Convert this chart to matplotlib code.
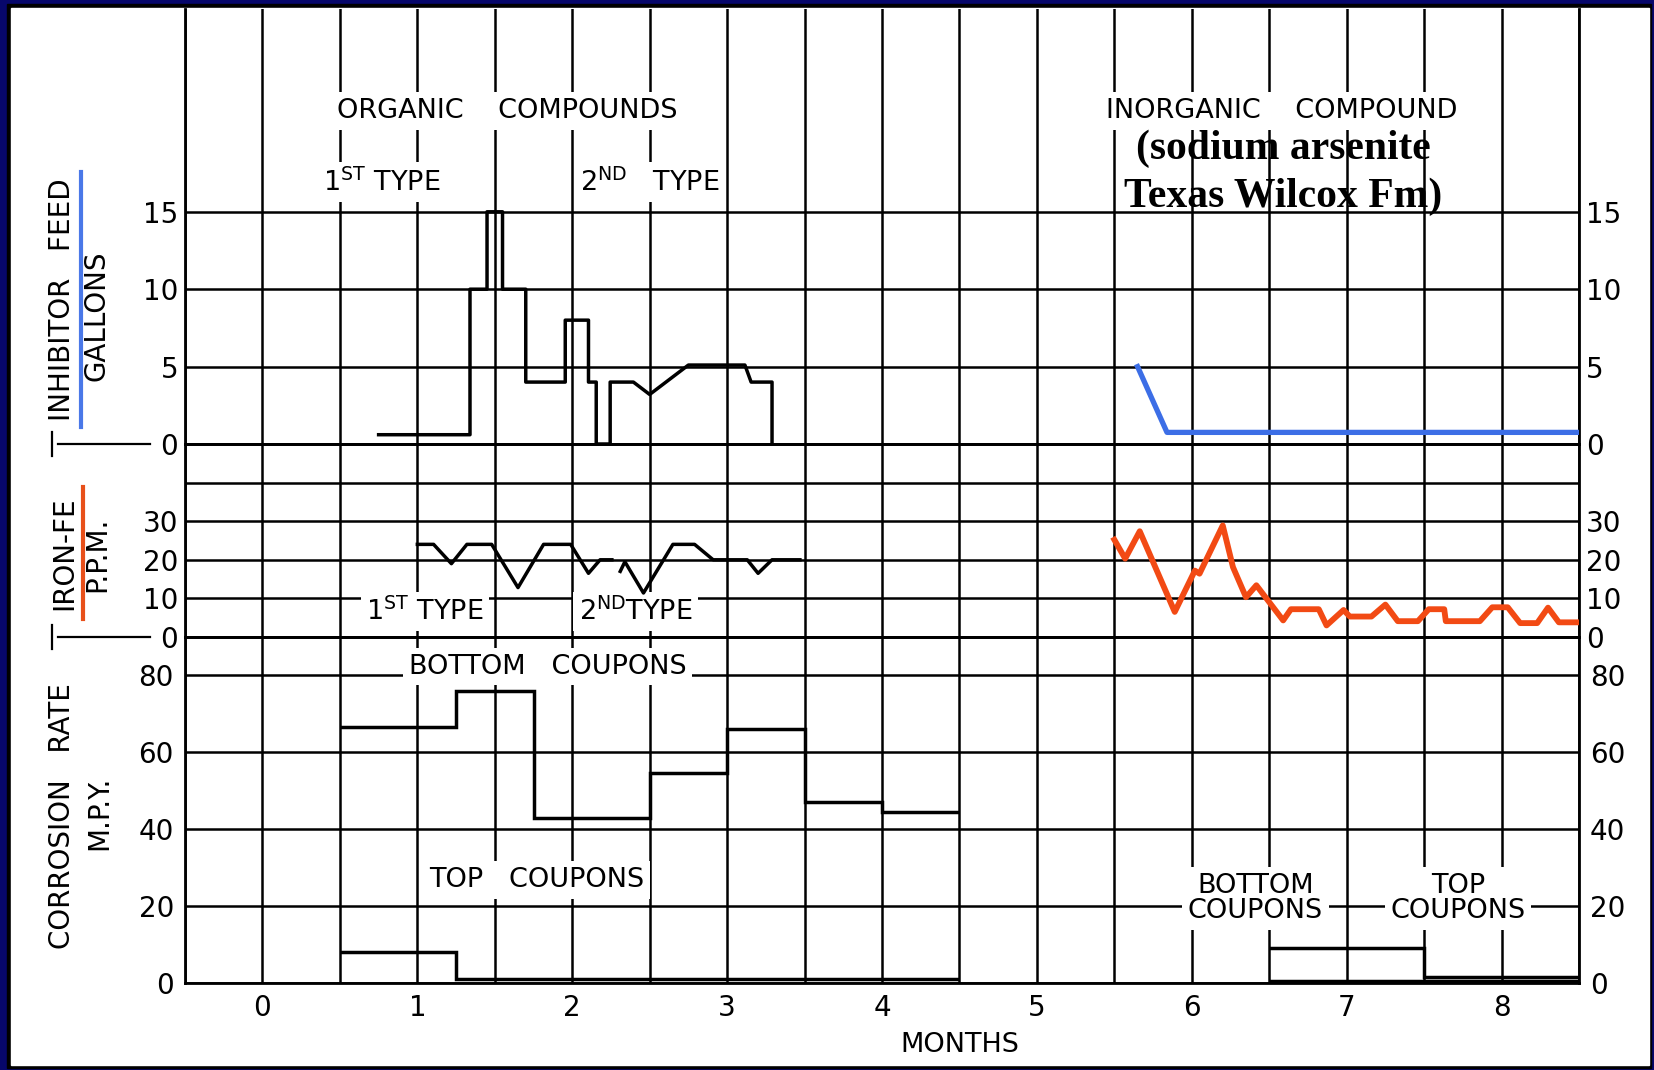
import matplotlib.pyplot as plt
from matplotlib.patches import Rectangle
from matplotlib.lines import Line2D
import numpy as np

# ---- data (x in months) ----
# inhibitor feed, gallons: organic compounds (1st and 2nd type)
feed_org_month = [0.75, 1.34, 1.34, 1.45, 1.45, 1.55, 1.55, 1.70, 1.70, 1.955, 1.955,
                  2.105, 2.105, 2.155, 2.155, 2.245, 2.245, 2.395, 2.5, 2.75, 3.115,
                  3.155, 3.29, 3.29]
feed_org_gal = [0.6, 0.6, 10, 10, 15, 15, 10, 10, 4, 4, 8,
                8, 4, 4, 0, 0, 4, 4, 3.2, 5.1, 5.1,
                4, 4, 0]
# inhibitor feed, gallons: sodium arsenite
feed_ars_month = [5.65, 5.84, 8.5]
feed_ars_gal = [5, 0.75, 0.75]

# iron, ppm: organic period (two pieces)
iron_org1_month = [1.0, 1.105, 1.22, 1.32, 1.48, 1.65, 1.815, 1.99, 2.105, 2.18, 2.256]
iron_org1_ppm = [24, 24, 19, 24, 24, 12.8, 24, 24, 16.5, 20, 20]
iron_org2_month = [2.31, 2.34, 2.46, 2.65, 2.79, 2.91, 3.13, 3.20, 3.29, 3.47]
iron_org2_ppm = [17, 19.5, 11.4, 24, 24, 20, 20, 16.5, 20, 20]
# iron, ppm: arsenite period
iron_ars_month = [5.5, 5.57, 5.664, 5.89, 6.02, 6.05, 6.2, 6.266, 6.35, 6.417, 6.59,
                  6.64, 6.82, 6.87, 6.98, 7.02, 7.16, 7.25, 7.33, 7.46, 7.53, 7.63,
                  7.64, 7.86, 7.94, 8.04, 8.12, 8.23, 8.3, 8.37, 8.5]
iron_ars_ppm = [25.2, 20.3, 27.4, 6.5, 17.2, 16.4, 28.9, 18.1, 10.3, 13.4, 4.3,
                7.2, 7.2, 3.0, 7.0, 5.3, 5.3, 8.4, 4.1, 4.1, 7.2, 7.2,
                4.1, 4.1, 7.7, 7.7, 3.6, 3.6, 7.6, 3.8, 3.8]

# corrosion rate, MPY (step values between month edges)
bottom_org_edges = [0.5, 1.25, 1.75, 2.5, 3.0, 3.5, 4.0, 4.5]
bottom_org_mpy = [66.5, 76, 43, 54.5, 66, 47, 44.5]
top_org_edges = [0.5, 1.25, 4.5]
top_org_mpy = [8, 1]
bottom_ars_edges = [6.5, 7.5, 8.5]
bottom_ars_mpy = [9, 1.5]
top_ars_edges = [6.5, 8.5]
top_ars_mpy = [0.5]

month_ticks = list(range(0, 9))
gal_ticks = [0, 5, 10, 15]
ppm_ticks = [0, 10, 20, 30, 40]
ppm_labels = ['0', '10', '20', '30', '']
mpy_ticks = [0, 20, 40, 60, 80]

W, H = 1654, 1070
BLUE = '#3c6ee6'
ORANGE = '#f24a14'
SANS = ['DejaVu Sans']


def fx(px):
    return px / W


def fy(py):
    return 1 - py / H


fig = plt.figure(figsize=(W / 100, H / 100), dpi=100, facecolor='#07076b')
fig.add_artist(Rectangle((fx(7), fy(1068)), fx(1651) - fx(7), fy(4) - fy(1068),
                         transform=fig.transFigure, color='black', zorder=-3))
fig.add_artist(Rectangle((fx(11), fy(1065)), fx(1649) - fx(11), fy(8) - fy(1065),
                         transform=fig.transFigure, color='white', zorder=-2))

left, right = fx(185), fx(1579)
ax_gal = fig.add_axes([left, fy(444), right - left, fy(9) - fy(444)])
ax_fe = fig.add_axes([left, fy(637), right - left, fy(444) - fy(637)])
ax_cr = fig.add_axes([left, fy(983), right - left, fy(637) - fy(983)])


def style(ax, yticks, ylabels, ylim):
    ax.set_facecolor('none')
    ax.set_xlim(-0.5, 8.5)
    ax.set_ylim(*ylim)
    ax.set_xticks(month_ticks)
    ax.set_xticks(np.arange(-0.5, 8.6, 0.5), minor=True)
    ax.set_yticks(yticks)
    ax.set_yticklabels(ylabels)
    ax.grid(True, which='both', axis='x', color='black', lw=1.8)
    ax.grid(True, which='major', axis='y', color='black', lw=1.8)
    ax.tick_params(which='both', length=0, labelbottom=False, labelleft=True,
                   labelright=True, labelsize=20, pad=5)
    for s in ax.spines.values():
        s.set_linewidth(2.0)


style(ax_gal, gal_ticks, [str(t) for t in gal_ticks], (0, 28.1))
style(ax_fe, ppm_ticks, ppm_labels, (0, 50))
style(ax_cr, mpy_ticks, [str(t) for t in mpy_ticks], (0, 90))
ax_gal.spines['top'].set_visible(False)
ax_cr.tick_params(labelbottom=True, pad=8)
ax_cr.set_xticklabels([str(m) for m in month_ticks])

# data
ax_gal.plot(feed_org_month, feed_org_gal, color='black', lw=2.5, zorder=4)
ax_gal.plot(feed_ars_month, feed_ars_gal, color=BLUE, lw=3.8, zorder=4)
ax_fe.plot(iron_org1_month, iron_org1_ppm, color='black', lw=2.5, zorder=4)
ax_fe.plot(iron_org2_month, iron_org2_ppm, color='black', lw=2.5, zorder=4)
ax_fe.plot(iron_ars_month, iron_ars_ppm, color=ORANGE, lw=4.2, zorder=4)
for edges, vals in [(bottom_org_edges, bottom_org_mpy), (top_org_edges, top_org_mpy),
                    (bottom_ars_edges, bottom_ars_mpy), (top_ars_edges, top_ars_mpy)]:
    ax_cr.stairs(vals, edges, baseline=None, color='black', lw=2.5, zorder=4)

# annotations
box = dict(facecolor='white', edgecolor='none', pad=4)
kw = dict(ha='center', va='center', fontsize=19.5, family=SANS, bbox=box, zorder=3)
ax_gal.text(1.58, 21.5, 'ORGANIC    COMPOUNDS', **kw)
ax_gal.text(0.77, 16.9, r'$\mathregular{1^{ST}}$ TYPE', **kw)
ax_gal.text(2.5, 16.9, r'$\mathregular{2^{ND}}$   TYPE', **kw)
ax_gal.text(6.58, 21.5, 'INORGANIC    COMPOUND', **kw)
ax_gal.text(6.59, 19.1, '(sodium arsenite', ha='center', va='center', fontsize=30,
            family='Liberation Serif', weight='bold', zorder=5)
ax_gal.text(6.59, 16.0, 'Texas Wilcox Fm)', ha='center', va='center', fontsize=30,
            family='Liberation Serif', weight='bold', zorder=5)
ax_fe.text(1.05, 6.6, r'$\mathregular{1^{ST}}$ TYPE', **kw)
ax_fe.text(2.41, 6.6, r'$\mathregular{2^{ND}}$TYPE', **kw)
ax_cr.text(1.84, 82.3, 'BOTTOM   COUPONS', **kw)
ax_cr.text(1.77, 26.8, 'TOP   COUPONS', **kw)
ax_cr.text(6.41, 22, 'BOTTOM\nCOUPONS', linespacing=0.95, **kw)
ax_cr.text(7.72, 22, 'TOP\nCOUPONS', linespacing=0.95, **kw)
fig.text(fx(960), fy(1045), 'MONTHS', ha='center', va='center', fontsize=19.5, family=SANS)

# left-hand axis titles
lab = dict(rotation=90, ha='center', va='center', fontsize=20, family=SANS)
fig.text(fx(62), fy(300), 'INHIBITOR   FEED', **lab)
fig.text(fx(97), fy(316), 'GALLONS', **lab)
fig.text(fx(64), fy(553), 'IRON-FE', **lab)
fig.text(fx(97), fy(554), 'P.P.M.', **lab)
fig.text(fx(62), fy(816), 'CORROSION   RATE', **lab)
fig.text(fx(99), fy(813), 'M.P.Y.', **lab)
fig.add_artist(Line2D([fx(81), fx(81)], [fy(172), fy(427)], color='#4a78e8', lw=3))
fig.add_artist(Line2D([fx(83), fx(83)], [fy(487), fy(619)], color='#e8501a', lw=3))
for yy in (444, 637):
    fig.add_artist(Line2D([fx(58), fx(150)], [fy(yy), fy(yy)], color='black', lw=1.6))
    fig.add_artist(Line2D([fx(52), fx(52)], [fy(yy - 12), fy(yy + 12)], color='black', lw=1.6))

fig.savefig('out.png', dpi=100, facecolor=fig.get_facecolor())
